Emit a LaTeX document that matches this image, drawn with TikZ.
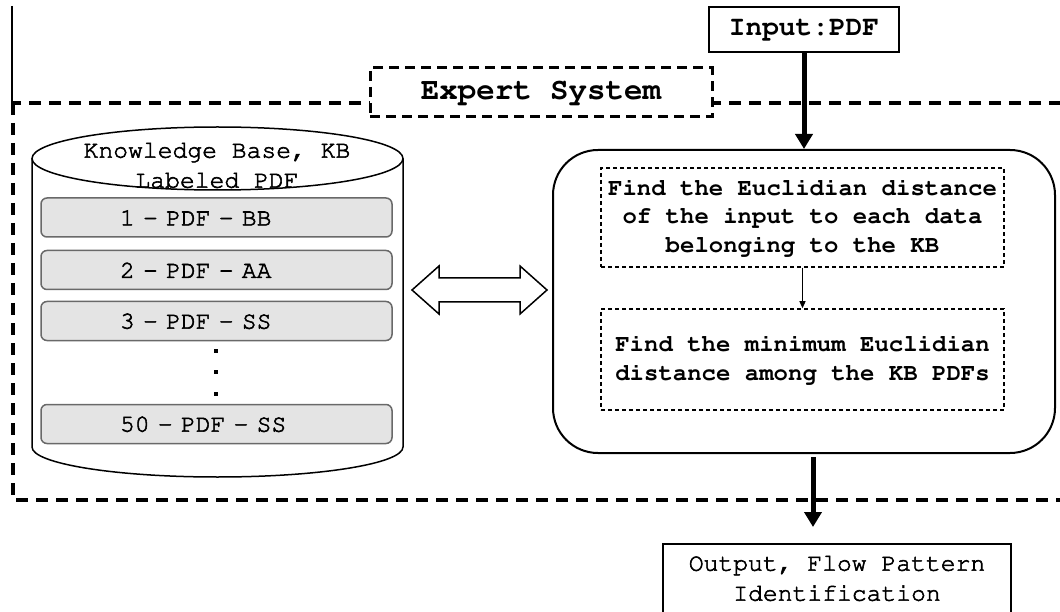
\documentclass[tikz,border=0pt]{standalone}
\usepackage[T1]{fontenc}
\usepackage{courier}
\usetikzlibrary{arrows.meta,calc}

\definecolor{itemfill}{RGB}{228,228,228}
\definecolor{itemdraw}{RGB}{105,105,105}

% regular Courier with a light outline stroke so it reads a little heavier
\newcommand\heavytext[1]{\special{pdf:literal direct 2 Tr 0.55 w}#1\special{pdf:literal direct 0 Tr}}

\tikzset{
  mono/.style={font=\ttfamily\fontsize{24.7}{30}\selectfont, text=black},
  monob/.style={font=\ttfamily\bfseries\fontsize{24}{28.5}\selectfont},
  frame/.style={line width=4pt, dash pattern=on 12pt off 8pt},
  titlebox/.style={draw, line width=3pt, dash pattern=on 10pt off 6pt, fill=white,
    inner sep=0pt, font=\ttfamily\bfseries\fontsize{30.8}{36}\selectfont},
  stepbox/.style={draw, line width=1.5pt, dash pattern=on 4pt off 3pt,
    minimum width=403pt, inner sep=0pt, align=center, monob},
  item/.style={draw=itemdraw, fill=itemfill, line width=1.5pt, rounded corners=6pt,
    minimum height=39pt, inner xsep=79pt, inner ysep=0pt, text width=193pt,
    align=left, mono},
  plainbox/.style={draw, line width=1.6pt, inner sep=0pt},
  bigarrow/.style={line width=5pt, -{Triangle[length=15pt,width=17pt]}},
  smallarrow/.style={line width=1.2pt, -{Triangle[length=7pt,width=6pt]}},
}

\begin{document}
\begin{tikzpicture}[x=1pt, y=-1pt]
  \useasboundingbox (0,0) rectangle (1060,612);
  \clip (0,0) rectangle (1060,612);

  % thin rule on the left margin
  \draw[line width=1.2pt] (12,6) -- (12,103);

  % expert system frame and its title
  \draw[frame] (13,103) rectangle (1080,500);
  \node[titlebox, minimum width=342pt, minimum height=49pt] (es) at (541,92.5) {Expert System};

  % input
  \node[plainbox, minimum width=190pt, minimum height=45pt,
        font=\ttfamily\bfseries\fontsize{27.8}{32}\selectfont] (inp) at (804,29.5) {Input:PDF};

  % knowledge base cylinder
  \coordinate (kb) at (217.5,158.5);
  \draw[line width=1.5pt, fill=white]
    (32,158.5) -- (32,447) arc[start angle=180, end angle=0, x radius=185.5, y radius=30]
    -- (403,158.5);
  \draw[line width=1.5pt, fill=white] (kb) ellipse[x radius=185.5, y radius=31.5];
  \node[mono, align=center] (kbtxt) at (217,165) {\heavytext{Knowledge Base, KB}\\\heavytext{Labeled PDF}};

  \node[item] (i1) at (216.5,217.5) {\heavytext{1 - PDF - BB}};
  \node[item] (i2) at (216.5,270) {\heavytext{2 - PDF - AA}};
  \node[item] (i3) at (216.5,321) {\heavytext{3 - PDF - SS}};
  \foreach \yy in {351,372,394}
    \fill (214,\yy-2) rectangle (218,\yy+2);
  \node[item] (i4) at (216.5,424) {\heavytext{50 - PDF - SS}};

  % processing block
  \node[draw, line width=2pt, rounded corners=45pt, minimum width=502pt,
        minimum height=303pt, inner sep=0pt] (proc) at (804,301.5) {};
  \node[stepbox, minimum height=99pt] (b1) at (802.5,217.5)
    {Find the Euclidian distance\\of the input to each data\\belonging to the KB};
  \node[stepbox, minimum height=101pt] (b2) at (802.5,359.5)
    {Find the minimum Euclidian\\distance among the KB PDFs};
  \draw[smallarrow] (b1.south) -- (b2.north);

  % exchange between knowledge base and processing
  \coordinate (xl) at (412,290);
  \coordinate (xr) at (547,290);
  \draw[line width=1.5pt, fill=white]
    (xl) -- ++(27,-24) -- ++(0,12) -- ++(81,0) -- ++(0,-12) -- (xr)
    -- ++(-27,24) -- ++(0,-12) -- ++(-81,0) -- ++(0,12) -- cycle;

  % output
  \node[plainbox, minimum width=348pt, minimum height=82pt, anchor=north] (out) at (837,543) {};
  \node[mono, align=center] (outtxt) at (837,578) {\heavytext{Output, Flow Pattern}\\\heavytext{Identification}};

  % main flow
  \draw[bigarrow] (inp.south) -- (proc.north);
  \coordinate (outend) at ($(out.north)+(-24,-16)$);
  \draw[bigarrow] ($(proc.south)+(9,3)$) -- (outend);
\end{tikzpicture}
\end{document}
